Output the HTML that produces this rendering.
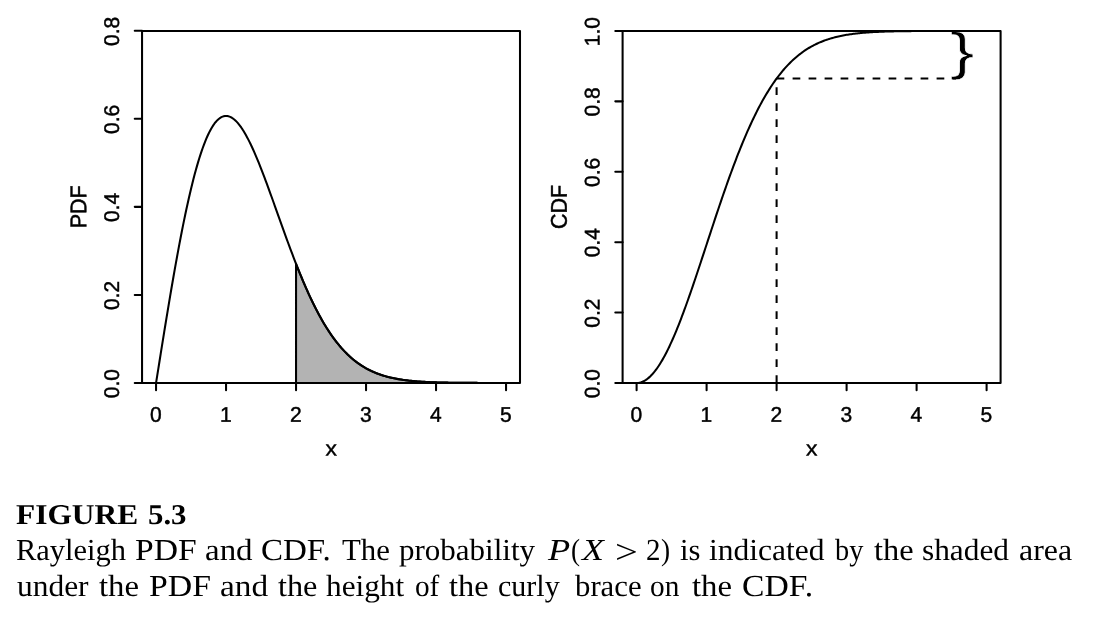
<!DOCTYPE html>
<html><head><meta charset="utf-8"><title>Figure 5.3</title>
<style>
html,body{margin:0;padding:0;background:#fff;}
body{width:1118px;height:634px;position:relative;overflow:hidden;}
.cap{position:absolute;left:0;width:1118px;height:40px;white-space:pre;font-family:"Liberation Serif",serif;color:#000;line-height:normal;text-rendering:geometricPrecision;}
.cap.b{font-weight:bold;}
.cap span{position:absolute;top:0;transform-origin:0 0;display:block;}
</style></head><body>
<svg width="1118" height="480" viewBox="0 0 1118 480" style="position:absolute;left:0;top:0">
<text font-family="'Liberation Sans', sans-serif" font-size="51.6" text-rendering="geometricPrecision" stroke="#fff" stroke-width="0.6" transform="translate(950.0 69.1) rotate(0.03) scale(1.411 1)">}</text>
<g fill="none" stroke="#000" stroke-width="2.05" stroke-linecap="butt" stroke-linejoin="round">
<path d="M296.05 382.95 L296.05 263.8 L297.45 267.35 L298.85 270.85 L300.25 274.3 L301.65 277.7 L303.05 281.03 L304.45 284.32 L305.85 287.54 L307.25 290.7 L308.65 293.8 L310.05 296.84 L311.45 299.81 L312.85 302.72 L314.25 305.57 L315.65 308.35 L317.05 311.06 L318.45 313.71 L319.85 316.29 L321.25 318.81 L322.65 321.26 L324.05 323.65 L325.45 325.97 L326.85 328.22 L328.25 330.41 L329.65 332.54 L331.05 334.6 L332.45 336.6 L333.85 338.54 L335.25 340.41 L336.65 342.23 L338.05 343.98 L339.45 345.68 L340.85 347.32 L342.25 348.9 L343.65 350.43 L345.05 351.9 L346.45 353.32 L347.85 354.69 L349.25 356.01 L350.65 357.28 L352.05 358.5 L353.45 359.67 L354.85 360.79 L356.25 361.87 L357.65 362.91 L359.05 363.9 L360.45 364.86 L361.85 365.77 L363.25 366.64 L364.65 367.48 L366.05 368.28 L367.45 369.04 L368.85 369.78 L370.25 370.47 L371.65 371.14 L373.05 371.78 L374.45 372.38 L375.85 372.96 L377.25 373.51 L378.65 374.03 L380.05 374.53 L381.45 375.01 L382.85 375.46 L384.25 375.89 L385.65 376.29 L387.05 376.68 L388.45 377.04 L389.85 377.39 L391.25 377.72 L392.65 378.03 L394.05 378.33 L395.45 378.61 L396.85 378.87 L398.25 379.12 L399.65 379.36 L401.05 379.58 L402.45 379.79 L403.85 379.99 L405.25 380.18 L406.65 380.35 L408.05 380.52 L409.45 380.68 L410.85 380.82 L412.25 380.96 L413.65 381.09 L415.05 381.22 L416.45 381.33 L417.85 381.44 L419.25 381.54 L420.65 381.64 L422.05 381.73 L423.45 381.81 L424.85 381.89 L426.25 381.96 L427.65 382.03 L429.05 382.1 L430.45 382.16 L431.85 382.21 L433.25 382.26 L434.65 382.31 L436.05 382.36 L437.45 382.4 L438.85 382.44 L440.25 382.48 L441.65 382.51 L443.05 382.55 L444.45 382.58 L445.85 382.6 L447.25 382.63 L448.65 382.65 L450.05 382.68 L451.45 382.7 L452.85 382.72 L454.25 382.74 L455.65 382.75 L457.05 382.77 L458.45 382.78 L459.85 382.79 L461.25 382.81 L462.65 382.82 L464.05 382.83 L465.45 382.84 L466.85 382.85 L468.25 382.86 L469.65 382.86 L471.05 382.87 L472.45 382.88 L473.85 382.88 L475.25 382.89 L476.65 382.89 L478.05 382.9 L479.45 382.9 L480.85 382.91 L482.25 382.91 L483.65 382.91 L485.05 382.92 L486.45 382.92 L487.85 382.92 L489.25 382.92 L490.65 382.93 L492.05 382.93 L493.45 382.93 L494.85 382.93 L496.25 382.93 L497.65 382.94 L499.05 382.94 L500.45 382.94 L501.85 382.94 L503.25 382.94 L504.65 382.94 L506.05 382.94 L506.05 382.95Z" fill="#b3b3b3" stroke="#000" stroke-width="2.05"/>
<rect x="142.05" y="30.9" width="377.95" height="352.05"/>
<path d="M156.05 382.95v7.3M226.05 382.95v7.3M296.05 382.95v7.3M366.05 382.95v7.3M436.05 382.95v7.3M506.05 382.95v7.3M142.05 382.95h-7.3M142.05 294.91h-7.3M142.05 206.87h-7.3M142.05 118.84h-7.3M142.05 30.8h-7.3" stroke-linecap="round"/>
<path d="M156.05 382.95 L157.22 375.61 L158.38 368.29 L159.55 360.97 L160.72 353.67 L161.88 346.39 L163.05 339.15 L164.22 331.94 L165.38 324.78 L166.55 317.66 L167.72 310.6 L168.88 303.59 L170.05 296.66 L171.22 289.79 L172.38 283 L173.55 276.29 L174.72 269.67 L175.88 263.14 L177.05 256.7 L178.22 250.37 L179.38 244.15 L180.55 238.04 L181.72 232.04 L182.88 226.16 L184.05 220.41 L185.22 214.79 L186.38 209.3 L187.55 203.94 L188.72 198.72 L189.88 193.65 L191.05 188.72 L192.22 183.94 L193.38 179.31 L194.55 174.83 L195.72 170.51 L196.88 166.35 L198.05 162.34 L199.22 158.5 L200.38 154.83 L201.55 151.31 L202.72 147.97 L203.88 144.79 L205.05 141.77 L206.22 138.93 L207.38 136.25 L208.55 133.75 L209.72 131.41 L210.88 129.24 L212.05 127.24 L213.22 125.4 L214.38 123.73 L215.55 122.23 L216.72 120.9 L217.88 119.72 L219.05 118.71 L220.22 117.86 L221.38 117.17 L222.55 116.64 L223.72 116.26 L224.88 116.04 L226.05 115.96 L227.22 116.04 L228.38 116.25 L229.55 116.62 L230.72 117.12 L231.88 117.76 L233.05 118.54 L234.22 119.44 L235.38 120.48 L236.55 121.64 L237.72 122.92 L238.88 124.32 L240.05 125.83 L241.22 127.46 L242.38 129.19 L243.55 131.03 L244.72 132.97 L245.88 135.01 L247.05 137.14 L248.22 139.36 L249.38 141.66 L250.55 144.05 L251.72 146.51 L252.88 149.05 L254.05 151.66 L255.22 154.33 L256.38 157.07 L257.55 159.87 L258.72 162.73 L259.88 165.63 L261.05 168.59 L262.22 171.59 L263.38 174.63 L264.55 177.7 L265.72 180.82 L266.88 183.96 L268.05 187.13 L269.22 190.32 L270.38 193.53 L271.55 196.77 L272.72 200.01 L273.88 203.27 L275.05 206.54 L276.22 209.81 L277.38 213.08 L278.55 216.35 L279.72 219.62 L280.88 222.89 L282.05 226.15 L283.22 229.39 L284.38 232.63 L285.55 235.85 L286.72 239.05 L287.88 242.23 L289.05 245.39 L290.22 248.53 L291.38 251.64 L292.55 254.73 L293.72 257.78 L294.88 260.81 L296.05 263.8 L297.22 266.77 L298.38 269.69 L299.55 272.58 L300.72 275.44 L301.88 278.26 L303.05 281.03 L304.22 283.77 L305.38 286.47 L306.55 289.13 L307.72 291.74 L308.88 294.31 L310.05 296.84 L311.22 299.32 L312.38 301.76 L313.55 304.15 L314.72 306.5 L315.88 308.8 L317.05 311.06 L318.22 313.27 L319.38 315.44 L320.55 317.56 L321.72 319.63 L322.88 321.66 L324.05 323.65 L325.22 325.58 L326.38 327.48 L327.55 329.32 L328.72 331.13 L329.88 332.88 L331.05 334.6 L332.22 336.27 L333.38 337.9 L334.55 339.48 L335.72 341.02 L336.88 342.52 L338.05 343.98 L339.22 345.4 L340.38 346.78 L341.55 348.12 L342.72 349.42 L343.88 350.68 L345.05 351.9 L346.22 353.09 L347.38 354.24 L348.55 355.36 L349.72 356.44 L350.88 357.48 L352.05 358.5 L353.22 359.47 L354.38 360.42 L355.55 361.34 L356.72 362.22 L357.88 363.08 L359.05 363.9 L360.22 364.7 L361.38 365.47 L362.55 366.21 L363.72 366.93 L364.88 367.62 L366.05 368.28 L367.22 368.92 L368.38 369.54 L369.55 370.13 L370.72 370.7 L371.88 371.25 L373.05 371.78 L374.22 372.28 L375.38 372.77 L376.55 373.24 L377.72 373.69 L378.88 374.12 L380.05 374.53 L381.22 374.93 L382.38 375.31 L383.55 375.67 L384.72 376.02 L385.88 376.36 L387.05 376.68 L388.22 376.98 L389.38 377.28 L390.55 377.56 L391.72 377.83 L392.88 378.08 L394.05 378.33 L395.22 378.56 L396.38 378.78 L397.55 379 L398.72 379.2 L399.88 379.39 L401.05 379.58 L402.22 379.76 L403.38 379.92 L404.55 380.08 L405.72 380.24 L406.88 380.38 L408.05 380.52 L409.22 380.65 L410.38 380.78 L411.55 380.89 L412.72 381.01 L413.88 381.11 L415.05 381.22 L416.22 381.31 L417.38 381.4 L418.55 381.49 L419.72 381.57 L420.88 381.65 L422.05 381.73 L423.22 381.8 L424.38 381.86 L425.55 381.93 L426.72 381.99 L427.88 382.04 L429.05 382.1 L430.22 382.15 L431.38 382.19 L432.55 382.24 L433.72 382.28 L434.88 382.32 L436.05 382.36 L437.22 382.4 L438.38 382.43 L439.55 382.46 L440.72 382.49 L441.88 382.52 L443.05 382.55 L444.22 382.57 L445.38 382.6 L446.55 382.62 L447.72 382.64 L448.88 382.66 L450.05 382.68 L451.22 382.69 L452.38 382.71 L453.55 382.73 L454.72 382.74 L455.88 382.75 L457.05 382.77 L458.22 382.78 L459.38 382.79 L460.55 382.8 L461.72 382.81 L462.88 382.82 L464.05 382.83 L465.22 382.84 L466.38 382.84 L467.55 382.85 L468.72 382.86 L469.88 382.86 L471.05 382.87 L472.22 382.88 L473.38 382.88 L474.55 382.89 L475.72 382.89 L476.88 382.89 L478.05 382.9 L479.22 382.9 L480.38 382.91 L481.55 382.91 L482.72 382.91 L483.88 382.91 L485.05 382.92 L486.22 382.92 L487.38 382.92 L488.55 382.92 L489.72 382.93 L490.88 382.93 L492.05 382.93 L493.22 382.93 L494.38 382.93 L495.55 382.93 L496.72 382.93 L497.88 382.94 L499.05 382.94 L500.22 382.94 L501.38 382.94 L502.55 382.94 L503.72 382.94 L504.88 382.94 L506.05 382.94"/>
<rect x="622.6" y="30.9" width="378" height="352.1"/>
<path d="M636.6 383v7.3M706.6 383v7.3M776.6 383v7.3M846.6 383v7.3M916.6 383v7.3M986.6 383v7.3M622.6 383h-7.3M622.6 312.59h-7.3M622.6 242.18h-7.3M622.6 171.77h-7.3M622.6 101.36h-7.3M622.6 30.95h-7.3" stroke-linecap="round"/>
<path d="M636.6 383 L637.77 382.95 L638.93 382.8 L640.1 382.56 L641.27 382.22 L642.43 381.78 L643.6 381.24 L644.77 380.61 L645.93 379.88 L647.1 379.06 L648.27 378.14 L649.43 377.13 L650.6 376.03 L651.77 374.83 L652.93 373.55 L654.1 372.17 L655.27 370.7 L656.43 369.15 L657.6 367.51 L658.77 365.78 L659.93 363.98 L661.1 362.08 L662.27 360.11 L663.43 358.06 L664.6 355.93 L665.77 353.73 L666.93 351.45 L668.1 349.1 L669.27 346.68 L670.43 344.19 L671.6 341.63 L672.77 339.01 L673.93 336.33 L675.1 333.58 L676.27 330.78 L677.43 327.92 L678.6 325.01 L679.77 322.04 L680.93 319.02 L682.1 315.96 L683.27 312.85 L684.43 309.7 L685.6 306.5 L686.77 303.27 L687.93 300 L689.1 296.69 L690.27 293.35 L691.43 289.99 L692.6 286.59 L693.77 283.17 L694.93 279.73 L696.1 276.26 L697.27 272.78 L698.43 269.27 L699.6 265.76 L700.77 262.23 L701.93 258.69 L703.1 255.15 L704.27 251.59 L705.43 248.04 L706.6 244.48 L707.77 240.92 L708.93 237.36 L710.1 233.81 L711.27 230.26 L712.43 226.73 L713.6 223.2 L714.77 219.68 L715.93 216.17 L717.1 212.68 L718.27 209.21 L719.43 205.75 L720.6 202.31 L721.77 198.89 L722.93 195.5 L724.1 192.13 L725.27 188.79 L726.43 185.47 L727.6 182.18 L728.77 178.91 L729.93 175.68 L731.1 172.48 L732.27 169.31 L733.43 166.18 L734.6 163.08 L735.77 160.01 L736.93 156.98 L738.1 153.99 L739.27 151.04 L740.43 148.12 L741.6 145.24 L742.77 142.41 L743.93 139.61 L745.1 136.85 L746.27 134.14 L747.43 131.46 L748.6 128.83 L749.77 126.24 L750.93 123.7 L752.1 121.19 L753.27 118.73 L754.43 116.32 L755.6 113.94 L756.77 111.61 L757.93 109.33 L759.1 107.09 L760.27 104.89 L761.43 102.73 L762.6 100.62 L763.77 98.55 L764.93 96.53 L766.1 94.54 L767.27 92.6 L768.43 90.71 L769.6 88.85 L770.77 87.04 L771.93 85.27 L773.1 83.54 L774.27 81.85 L775.43 80.2 L776.6 78.59 L777.77 77.03 L778.93 75.5 L780.1 74.01 L781.27 72.55 L782.43 71.14 L783.6 69.76 L784.77 68.42 L785.93 67.12 L787.1 65.85 L788.27 64.62 L789.43 63.42 L790.6 62.25 L791.77 61.12 L792.93 60.03 L794.1 58.96 L795.27 57.92 L796.43 56.92 L797.6 55.95 L798.77 55 L799.93 54.09 L801.1 53.2 L802.27 52.35 L803.43 51.52 L804.6 50.71 L805.77 49.93 L806.93 49.18 L808.1 48.46 L809.27 47.75 L810.43 47.07 L811.6 46.42 L812.77 45.78 L813.93 45.17 L815.1 44.58 L816.27 44.01 L817.43 43.47 L818.6 42.94 L819.77 42.43 L820.93 41.94 L822.1 41.46 L823.27 41.01 L824.43 40.57 L825.6 40.15 L826.77 39.74 L827.93 39.35 L829.1 38.97 L830.27 38.61 L831.43 38.27 L832.6 37.94 L833.77 37.62 L834.93 37.31 L836.1 37.01 L837.27 36.73 L838.43 36.46 L839.6 36.2 L840.77 35.95 L841.93 35.72 L843.1 35.49 L844.27 35.27 L845.43 35.06 L846.6 34.86 L847.77 34.67 L848.93 34.49 L850.1 34.31 L851.27 34.14 L852.43 33.99 L853.6 33.83 L854.77 33.69 L855.93 33.55 L857.1 33.42 L858.27 33.29 L859.43 33.17 L860.6 33.05 L861.77 32.94 L862.93 32.84 L864.1 32.74 L865.27 32.65 L866.43 32.56 L867.6 32.47 L868.77 32.39 L869.93 32.31 L871.1 32.24 L872.27 32.17 L873.43 32.1 L874.6 32.04 L875.77 31.98 L876.93 31.92 L878.1 31.87 L879.27 31.81 L880.43 31.77 L881.6 31.72 L882.77 31.68 L883.93 31.63 L885.1 31.6 L886.27 31.56 L887.43 31.52 L888.6 31.49 L889.77 31.46 L890.93 31.43 L892.1 31.4 L893.27 31.37 L894.43 31.35 L895.6 31.32 L896.77 31.3 L897.93 31.28 L899.1 31.26 L900.27 31.24 L901.43 31.22 L902.6 31.21 L903.77 31.19 L904.93 31.18 L906.1 31.16 L907.27 31.15 L908.43 31.14 L909.6 31.13 L910.77 31.11 L911.93 31.1 L913.1 31.09 L914.27 31.08 L915.43 31.08 L916.6 31.07 L917.77 31.06 L918.93 31.05 L920.1 31.05 L921.27 31.04 L922.43 31.03 L923.6 31.03 L924.77 31.02 L925.93 31.02 L927.1 31.01 L928.27 31.01 L929.43 31.01 L930.6 31 L931.77 31 L932.93 31 L934.1 30.99 L935.27 30.99 L936.43 30.99 L937.6 30.98 L938.77 30.98 L939.93 30.98 L941.1 30.98 L942.27 30.98 L943.43 30.97 L944.6 30.97 L945.77 30.97 L946.93 30.97 L948.1 30.97 L949.27 30.97 L950.43 30.97 L951.6 30.96 L952.77 30.96 L953.93 30.96 L955.1 30.96 L956.27 30.96 L957.43 30.96 L958.6 30.96 L959.77 30.96 L960.93 30.96 L962.1 30.96 L963.27 30.96 L964.43 30.96 L965.6 30.96 L966.77 30.96 L967.93 30.95 L969.1 30.95 L970.27 30.95 L971.43 30.95 L972.6 30.95 L973.77 30.95 L974.93 30.95 L976.1 30.95 L977.27 30.95 L978.43 30.95 L979.6 30.95 L980.77 30.95 L981.93 30.95 L983.1 30.95 L984.27 30.95 L985.43 30.95 L986.6 30.95"/>
<path d="M776.6 383V78.59" stroke-dasharray="7.7 8.3"/>
<path d="M776.6 78.59H956" stroke-dasharray="7.7 8.3"/>
</g>
<g font-family="'Liberation Sans', sans-serif" fill="#000" stroke="#000" stroke-width="0.45" text-anchor="middle" text-rendering="geometricPrecision">
<text font-size="21.0" transform="translate(155.9 421.7) rotate(0.03) scale(1 1.01)">0</text>
<text font-size="21.0" transform="translate(225.9 421.7) rotate(0.03) scale(1 1.01)">1</text>
<text font-size="21.0" transform="translate(295.9 421.7) rotate(0.03) scale(1 1.01)">2</text>
<text font-size="21.0" transform="translate(365.9 421.7) rotate(0.03) scale(1 1.01)">3</text>
<text font-size="21.0" transform="translate(435.9 421.7) rotate(0.03) scale(1 1.01)">4</text>
<text font-size="21.0" transform="translate(505.9 421.7) rotate(0.03) scale(1 1.01)">5</text>
<text font-size="22.8" transform="translate(331.12 455.5) rotate(0.03) scale(1 0.92)">x</text>
<text font-size="21.0" transform="translate(119.05 383.55) rotate(-90.03) scale(1 1.01)">0.0</text>
<text font-size="21.0" transform="translate(119.05 295.51) rotate(-90.03) scale(1 1.01)">0.2</text>
<text font-size="21.0" transform="translate(119.05 207.47) rotate(-90.03) scale(1 1.01)">0.4</text>
<text font-size="21.0" transform="translate(119.05 119.44) rotate(-90.03) scale(1 1.01)">0.6</text>
<text font-size="21.0" transform="translate(119.05 31.4) rotate(-90.03) scale(1 1.01)">0.8</text>
<text font-size="21.45" transform="translate(86.2 206.92) rotate(-90.03) scale(1 1.06)">PDF</text>
<text font-size="21.0" transform="translate(636.45 421.7) rotate(0.03) scale(1 1.01)">0</text>
<text font-size="21.0" transform="translate(706.45 421.7) rotate(0.03) scale(1 1.01)">1</text>
<text font-size="21.0" transform="translate(776.45 421.7) rotate(0.03) scale(1 1.01)">2</text>
<text font-size="21.0" transform="translate(846.45 421.7) rotate(0.03) scale(1 1.01)">3</text>
<text font-size="21.0" transform="translate(916.45 421.7) rotate(0.03) scale(1 1.01)">4</text>
<text font-size="21.0" transform="translate(986.45 421.7) rotate(0.03) scale(1 1.01)">5</text>
<text font-size="22.8" transform="translate(811.7 455.5) rotate(0.03) scale(1 0.92)">x</text>
<text font-size="21.0" transform="translate(599.6 383.6) rotate(-90.03) scale(1 1.01)">0.0</text>
<text font-size="21.0" transform="translate(599.6 313.19) rotate(-90.03) scale(1 1.01)">0.2</text>
<text font-size="21.0" transform="translate(599.6 242.78) rotate(-90.03) scale(1 1.01)">0.4</text>
<text font-size="21.0" transform="translate(599.6 172.37) rotate(-90.03) scale(1 1.01)">0.6</text>
<text font-size="21.0" transform="translate(599.6 101.96) rotate(-90.03) scale(1 1.01)">0.8</text>
<text font-size="21.0" transform="translate(599.6 31.55) rotate(-90.03) scale(1 1.01)">1.0</text>
<text font-size="21.45" transform="translate(566.75 206.95) rotate(-90.03) scale(1 1.06)">CDF</text>
</g>
</svg>
<div class="cap b" style="top:499.33px;font-size:28.7px"><span style="left:16.05px;transform:scaleX(1.0953)">FIGURE</span> <span style="left:148.47px;transform:scaleX(1.0743)">5.3</span></div>
<div class="cap" style="top:532.58px;font-size:30.5px"><span style="left:16.47px;transform:scaleX(0.9984)">Rayleigh</span> <span style="left:135.36px;transform:scaleX(1.1008)">PDF</span> <span style="left:205.43px;transform:scaleX(1.0807)">and</span> <span style="left:261.20px;transform:scaleX(1.0817)">CDF.</span> <span style="left:342.10px;transform:scaleX(1.0097)">The</span> <span style="left:398.89px;transform:scaleX(1.0168)">probability</span> <span style="left:548.02px;transform:scaleX(1.1915)"><i>P</i></span><span style="left:571.14px;transform:scaleX(0.8888)">(</span><span style="left:582.30px;transform:scaleX(1.1787)"><i>X</i></span> <span style="left:614.86px;top:0.70px;transform:scale(1.3293,1.100)">&gt;</span> <span style="left:645.88px;transform:scaleX(0.9502)">2</span><span style="left:661.08px;transform:scaleX(0.8957)">)</span> <span style="left:679.88px;transform:scaleX(1.0049)">is</span> <span style="left:708.95px;transform:scaleX(1.0335)">indicated</span> <span style="left:834.60px;transform:scaleX(0.9289)">by</span> <span style="left:873.81px;transform:scaleX(1.0617)">the</span> <span style="left:921.95px;transform:scaleX(1.0276)">shaded</span> <span style="left:1018.77px;transform:scaleX(1.0459)">area</span></div>
<div class="cap" style="top:568.62px;font-size:30.5px"><span style="left:16.89px;transform:scaleX(1.0309)">under</span> <span style="left:99.41px;transform:scaleX(1.0730)">the</span> <span style="left:149.06px;transform:scaleX(1.1064)">PDF</span> <span style="left:219.92px;transform:scaleX(1.0925)">and</span> <span style="left:278.02px;transform:scaleX(1.0589)">the</span> <span style="left:326.31px;transform:scaleX(1.0251)">height</span> <span style="left:414.71px;transform:scaleX(0.9590)">of</span> <span style="left:449.01px;transform:scaleX(1.0617)">the</span> <span style="left:498.07px;transform:scaleX(0.9833)">curly</span> <span style="left:574.67px;transform:scaleX(1.0084)">brace</span> <span style="left:650.31px;transform:scaleX(0.9598)">on</span> <span style="left:691.51px;transform:scaleX(1.0730)">the</span> <span style="left:741.57px;transform:scaleX(1.1012)">CDF.</span></div>
</body></html>
